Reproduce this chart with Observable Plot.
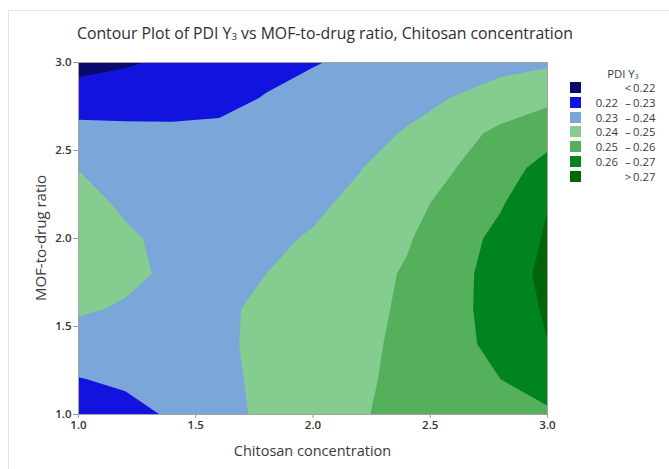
<!DOCTYPE html>
<html><head><meta charset="utf-8">
<script src="https://cdn.jsdelivr.net/npm/d3@7"></script>
<script src="https://cdn.jsdelivr.net/npm/@observablehq/plot@0.6"></script>
<style>
body{margin:0;background:#fff;font-family:"Open Sans",sans-serif;}
#wrap{position:relative;width:669px;height:469px;overflow:hidden;background:#fff;}
#frame{position:absolute;left:8px;top:10px;width:720px;height:520px;border:1px solid #e2e2e2;}
#chart{position:absolute;left:0;top:0;}
.t{position:absolute;white-space:nowrap;color:#3a3a3a;}
#title{left:0;width:650px;top:22px;text-align:center;font-size:15.8px;color:#2e2e2e;}
#xlabel{left:78px;width:469px;top:441px;text-align:center;font-size:14.5px;}
#ylabel{left:40px;top:238px;font-size:15px;transform:translate(-50%,-50%) rotate(-90deg);}
sub{font-size:0.62em;vertical-align:-0.15em;line-height:0;}
.sw{position:absolute;width:11px;height:11px;}
.lg{position:absolute;font-size:11.3px;color:#3a3a3a;line-height:13px;height:13px;white-space:nowrap;}
</style>
</head><body>
<div id="wrap">
  <div id="frame"></div>
  <div id="chart"></div>
  <div class="t" id="title">Contour Plot of PDI Y<sub>3</sub> vs MOF-to-drug ratio, Chitosan concentration</div>
  <div class="t" id="xlabel">Chitosan concentration</div>
  <div class="t" id="ylabel">MOF-to-drug ratio</div>
  <div id="legend"></div>
</div>
<script>
// Grid positions (Chitosan concentration across, MOF-to-drug ratio down, top row = 3.0)
const chitosan = [1.0, 1.2, 1.4, 1.6, 1.8, 2.0, 2.2, 2.4, 2.6, 2.8, 3.0];
const mofRatio = [3.0, 2.8, 2.6, 2.4, 2.2, 2.0, 1.8, 1.6, 1.4, 1.2, 1.0];
// PDI Y3 values estimated on that grid (one row per MOF-to-drug ratio)
const pdi_30 = [0.2163,0.2190,0.2217,0.2243,0.2269,0.2295,0.2318,0.2340,0.2358,0.2372,0.2385];
const pdi_28 = [0.2251,0.2250,0.2252,0.2270,0.2305,0.2330,0.2355,0.2378,0.2402,0.2440,0.2477];
const pdi_26 = [0.2329,0.2325,0.2322,0.2322,0.2335,0.2355,0.2378,0.2405,0.2465,0.2520,0.2563];
const pdi_24 = [0.2398,0.2375,0.2360,0.2358,0.2365,0.2383,0.2397,0.2446,0.2497,0.2560,0.2633];
const pdi_22 = [0.2427,0.2388,0.2365,0.2366,0.2375,0.2385,0.2420,0.2472,0.2528,0.2590,0.2697];
const pdi_20 = [0.2440,0.2412,0.2380,0.2368,0.2385,0.2407,0.2455,0.2492,0.2553,0.2628,0.2712];
const pdi_18 = [0.2434,0.2418,0.2386,0.2372,0.2400,0.2438,0.2470,0.2508,0.2563,0.2648,0.2725];
const pdi_16 = [0.2410,0.2392,0.2375,0.2378,0.2425,0.2455,0.2478,0.2512,0.2568,0.2645,0.2712];
const pdi_14 = [0.2365,0.2362,0.2365,0.2380,0.2427,0.2458,0.2480,0.2520,0.2570,0.2630,0.2698];
const pdi_12 = [0.2296,0.2318,0.2345,0.2378,0.2420,0.2452,0.2480,0.2532,0.2570,0.2600,0.2639];
const pdi_10 = [0.2222,0.2265,0.2313,0.2370,0.2418,0.2450,0.2492,0.2528,0.2555,0.2575,0.2587];

const levels = [0.22, 0.23, 0.24, 0.25, 0.26, 0.27];
const bandColors = ["#0a0a6c", "#1313e0", "#7ba6d9", "#84cc8f", "#55b05c", "#00841f", "#006608"];
const xTicks = [1.0, 1.5, 2.0, 2.5, 3.0];
const yTicks = [1.0, 1.5, 2.0, 2.5, 3.0];
const legendLow  = ["", "0.22", "0.23", "0.24", "0.25", "0.26", ""];
const legendSep  = ["<", "–", "–", "–", "–", "–", ">"];
const legendHigh = ["0.22", "0.23", "0.24", "0.25", "0.26", "0.27", "0.27"];

const rows = [pdi_30, pdi_28, pdi_26, pdi_24, pdi_22, pdi_20, pdi_18, pdi_16, pdi_14, pdi_12, pdi_10];
const values = rows.flat();
const nx = chitosan.length, ny = mofRatio.length;
const dx = (chitosan[1] - chitosan[0]) / 2, dy = (mofRatio[0] - mofRatio[1]) / 2;

const plot = Plot.plot({
  width: 669, height: 469,
  marginLeft: 78, marginRight: 122, marginTop: 62, marginBottom: 55,
  style: {fontFamily: "'Open Sans', sans-serif", fontSize: "11.5px", color: "#333", background: "transparent"},
  x: {domain: [1, 3]},
  y: {domain: [1, 3]},
  color: {type: "threshold", domain: levels, range: bandColors},
  marks: [
    Plot.contour(values, {
      width: nx, height: ny,
      x1: chitosan[0] - dx, x2: chitosan[nx - 1] + dx,
      y1: mofRatio[0] + dy, y2: mofRatio[ny - 1] - dy,
      fill: Plot.identity,
      thresholds: [0.2, ...levels],
      clip: true
    }),
    Plot.frame({stroke: "#a3a3a3"}),
    Plot.axisX({ticks: xTicks, tickFormat: d3.format(".1f"), tickSize: 4, tickPadding: 2, stroke: "#9a9a9a", fill: "#333", fontWeight: 600, label: null}),
    Plot.axisY({ticks: yTicks, tickFormat: d3.format(".1f"), tickSize: 5, tickPadding: 2, stroke: "#9a9a9a", fill: "#333", fontWeight: 600, label: null})
  ]
});
document.getElementById("chart").appendChild(plot);

// Legend
const lg = document.getElementById("legend");
const place = (txt, left, width, align, top) => {
  const d = document.createElement("div");
  d.className = "lg";
  d.innerHTML = txt;
  d.style.left = left + "px"; d.style.width = width + "px";
  d.style.textAlign = align; d.style.top = top + "px";
  lg.appendChild(d);
};
place("PDI Y<sub>3</sub>", 596, 54, "center", 67);
bandColors.forEach((c, i) => {
  const cy = 87.5 + i * 14.8;
  const sw = document.createElement("div");
  sw.className = "sw"; sw.style.background = c;
  sw.style.left = "570px"; sw.style.top = (cy - 5.5) + "px";
  lg.appendChild(sw);
  if (legendLow[i]) place(legendLow[i], 587, 31, "right", cy - 6.5);
  place(legendSep[i], 623, 10, "center", cy - 6.5);
  place(legendHigh[i], 633, 22, "right", cy - 6.5);
});
</script>
</body></html>
